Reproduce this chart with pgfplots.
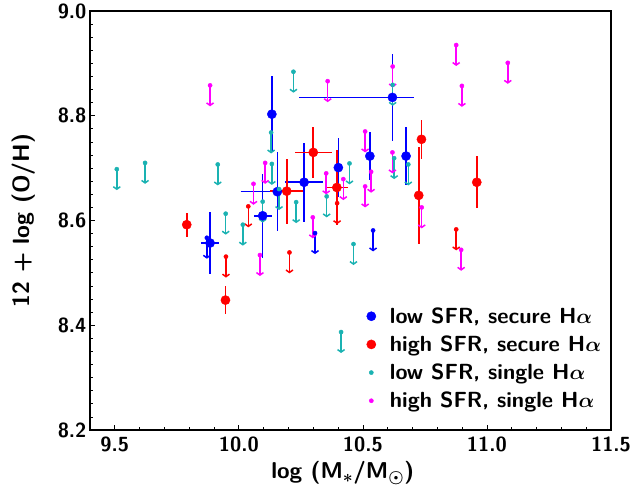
\documentclass[border=0pt]{standalone}
\usepackage{fontspec}
\usepackage{pgfplots}
\pgfplotsset{compat=1.18}
\usetikzlibrary{arrows.meta}

\definecolor{lowsec}{RGB}{0,0,255}
\definecolor{highsec}{RGB}{255,0,0}
\definecolor{lowsgl}{RGB}{26,178,178}
\definecolor{highsgl}{RGB}{255,0,255}

\pgfplotsset{
  bigdot/.style={only marks, mark=*, mark size=4.6bp},
  smalldot/.style={only marks, mark=*, mark size=2.1bp},
  limarrow/.style={no marks, line width=1.5bp, forget plot,
    -{Straight Barb[length=2.5bp,width=7bp,line width=1.5bp]},
    quiver={u=0,v=-0.04}},
  ebars/.style={error bars/.cd, x dir=both, x explicit, y dir=both, y explicit,
    error mark=none, error bar style={line width=1.6bp, draw=#1}},
}

% secure H-alpha: x, y, half-widths of the error bars
\pgfplotstableread{
x      y     ex    ey
9.884  8.557 0.035 0.060
10.096 8.609 0.036 0.080
10.155 8.655 0     0.075
10.263 8.673 0.078 0.075
10.133 8.803 0     0.073
10.619 8.835 0     0.083
10.401 8.701 0     0.057
10.528 8.723 0     0.046
10.674 8.723 0     0.056
}\lowsecure
\pgfplotstableread{
x      y     ex    ey
9.790  8.592 0     0.023
9.946  8.448 0     0.026
10.193 8.656 0.067 0.062
10.300 8.730 0.074 0.049
10.395 8.663 0.044 0.071
10.736 8.755 0     0.037
10.725 8.648 0     0.092
10.959 8.673 0     0.050
}\highsecure
% upper limits
\pgfplotstableread{
x      y
9.871  8.567
10.307 8.576
10.541 8.581
}\lowsecurelim
\pgfplotstableread{
x      y
10.038 8.627
9.948  8.531
10.204 8.539
10.396 8.633
10.876 8.583
}\highsecurelim
\pgfplotstableread{
x      y
9.508  8.698
9.622  8.710
9.915  8.707
9.947  8.613
10.016 8.592
10.096 8.636
10.130 8.768
10.133 8.708
10.162 8.660
10.231 8.635
10.354 8.646
10.446 8.709
10.462 8.555
10.626 8.719
10.683 8.707
10.620 8.859
10.220 8.884
10.412 8.387
}\lowsingle
\pgfplotstableread{
x      y
9.884  8.858
10.358 8.866
10.620 8.894
10.509 8.770
10.876 8.935
10.899 8.857
11.084 8.901
10.896 8.544
10.059 8.670
10.106 8.710
10.085 8.534
10.298 8.606
10.352 8.690
10.421 8.679
10.509 8.665
10.533 8.693
10.619 8.730
10.737 8.625
}\highsingle

\begin{document}
\begin{tikzpicture}
\begin{axis}[
  scale only axis,
  width=521bp, height=419bp,
  xmin=9.4, xmax=11.5, ymin=8.2, ymax=9.0,
  xtick={9.5,10.0,10.5,11.0,11.5},
  xticklabels={9.5,10.0,10.5,11.0,11.5},
  ytick={8.2,8.4,8.6,8.8,9.0},
  yticklabels={8.2,8.4,8.6,8.8,9.0},
  minor x tick num=4, minor y tick num=7,
  tick align=inside, xtick pos=left, ytick pos=left,
  major tick length=5bp, minor tick length=3bp,
  tick style={black, line width=0.8bp},
  axis line style={line width=1.6bp},
  ticklabel style={font=\fontsize{20.5}{20.5}\selectfont\sffamily\bfseries},
  xticklabel style={yshift=-3bp},
  xlabel={log (M$_*$/M$_\odot$)},
  ylabel={12 + log (O/H)},
  every axis x label/.style={at={(rel axis cs:0.485,-0.103)}, anchor=center,
    font=\fontsize{23}{23}\selectfont\sffamily\bfseries\boldmath},
  every axis y label/.style={at={(rel axis cs:-0.127,0.5)}, rotate=90, anchor=center,
    font=\fontsize{23.5}{23.5}\selectfont\sffamily\bfseries\boldmath},
  legend style={draw=none, fill=none, at={(rel axis cs:0.525,0.302)}, anchor=north west,
    font=\fontsize{22}{26}\selectfont\sffamily\bfseries\boldmath, row sep=7bp,
    column sep=12bp},
  legend cell align=left,
  clip=false,
]
% low SFR, secure
\addplot[lowsec, bigdot, ebars=lowsec]
  table[x=x, y=y, x error=ex, y error=ey]{\lowsecure};
\addlegendentry{low SFR, secure H$\alpha$}
% lopsided mass errors of two blue points, end to end
\addplot[draw=lowsec, color=lowsec, line width=1.6bp, mark=none, forget plot]
  coordinates {(10.007,8.655) (10.255,8.655)};
\addplot[draw=lowsec, color=lowsec, line width=1.6bp, mark=none, forget plot]
  coordinates {(10.244,8.835) (10.706,8.835)};
% high SFR, secure
\addplot[highsec, bigdot, ebars=highsec]
  table[x=x, y=y, x error=ex, y error=ey]{\highsecure};
\addlegendentry{high SFR, secure H$\alpha$}
% low SFR, single
\addplot[lowsgl, smalldot] table[x=x, y=y]{\lowsingle};
\addlegendentry{low SFR, single H$\alpha$}
% high SFR, single
\addplot[highsgl, smalldot] table[x=x, y=y]{\highsingle};
\addlegendentry{high SFR, single H$\alpha$}

% upper limits
\addplot[lowsec, limarrow] table[x=x, y=y]{\lowsecurelim};
\addplot[lowsec, smalldot, forget plot] table[x=x, y=y]{\lowsecurelim};
\addplot[highsec, limarrow] table[x=x, y=y]{\highsecurelim};
\addplot[highsec, smalldot, forget plot] table[x=x, y=y]{\highsecurelim};
\addplot[lowsgl, limarrow] table[x=x, y=y]{\lowsingle};
\addplot[highsgl, limarrow] table[x=x, y=y]{\highsingle};
\coordinate (o) at (rel axis cs:0,0);
\end{axis}
\pgfresetboundingbox
\path (o) ++(-90bp,-66bp) rectangle ++(630bp,496bp);
\end{tikzpicture}
\end{document}
